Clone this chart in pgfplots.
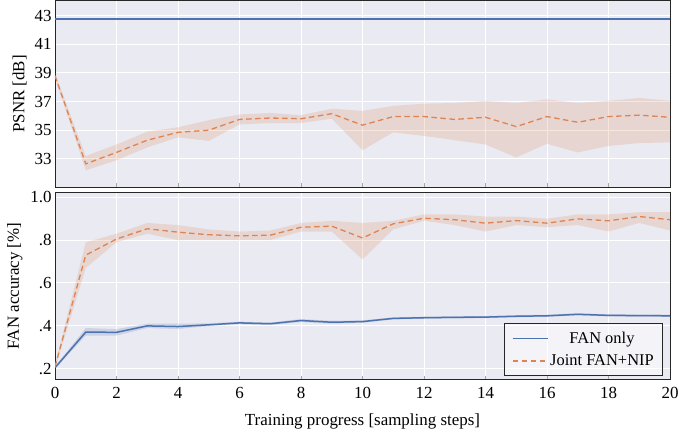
\documentclass[border=0pt]{standalone}
\usepackage{pgfplots}
\pgfplotsset{compat=1.18}
\usepgfplotslibrary{fillbetween}
\usepackage{fontspec}
\setmainfont{Liberation Serif}
\definecolor{bgc}{HTML}{EAEAF2}
\definecolor{sblue}{HTML}{4C72B0}
\definecolor{sorange}{HTML}{DD8452}
\definecolor{frame}{HTML}{262626}

\pgfplotstableread{
x m lo hi
0 38.8 38.6 39.0
1 32.65 32.2 33.2
2 33.45 32.9 34.0
3 34.3 33.8 34.9
4 34.85 34.5 35.2
5 35.0 34.25 35.7
6 35.75 35.4 36.1
7 35.85 35.5 36.2
8 35.8 35.5 36.05
9 36.15 35.8 36.5
10 35.35 33.6 36.35
11 35.95 34.85 36.7
12 35.95 34.6 36.85
13 35.75 34.3 36.9
14 35.9 34.0 37.05
15 35.25 33.1 36.9
16 35.95 34.05 37.15
17 35.55 33.45 36.9
18 35.95 33.9 37.05
19 36.05 34.1 37.25
20 35.9 34.15 37.05
}\psnrjoint

\pgfplotstableread{
x m
0 42.75
1 42.75
2 42.75
3 42.75
4 42.75
5 42.75
6 42.75
7 42.75
8 42.75
9 42.75
10 42.75
11 42.75
12 42.75
13 42.75
14 42.75
15 42.75
16 42.75
17 42.75
18 42.75
19 42.75
20 42.75
}\psnrfan

\pgfplotstableread{
x m lo hi
0 0.21 0.20 0.22
1 0.73 0.67 0.79
2 0.805 0.79 0.83
3 0.853 0.83 0.88
4 0.837 0.80 0.87
5 0.825 0.80 0.85
6 0.82 0.80 0.84
7 0.823 0.80 0.845
8 0.86 0.84 0.88
9 0.865 0.84 0.89
10 0.81 0.71 0.88
11 0.876 0.85 0.89
12 0.902 0.89 0.92
13 0.895 0.87 0.92
14 0.879 0.84 0.91
15 0.891 0.87 0.91
16 0.879 0.86 0.90
17 0.899 0.87 0.92
18 0.89 0.84 0.92
19 0.91 0.88 0.93
20 0.895 0.845 0.93
}\accjoint

\pgfplotstableread{
x m lo hi
0 0.205 0.20 0.21
1 0.371 0.355 0.39
2 0.37 0.355 0.385
3 0.40 0.39 0.41
4 0.397 0.385 0.41
5 0.405 0.40 0.412
6 0.414 0.408 0.42
7 0.41 0.404 0.416
8 0.425 0.418 0.432
9 0.417 0.41 0.424
10 0.42 0.414 0.426
11 0.435 0.43 0.44
12 0.438 0.433 0.443
13 0.44 0.435 0.445
14 0.441 0.436 0.446
15 0.445 0.44 0.45
16 0.447 0.442 0.452
17 0.454 0.449 0.459
18 0.449 0.444 0.454
19 0.448 0.443 0.453
20 0.447 0.442 0.452
}\accfan

\pgfplotsset{
  myaxis/.style={
    scale only axis,
    width=615bp,
    height=187bp,
    xmin=0, xmax=20,
    xtick={0,2,...,20},
    xtick pos=lower,
    axis background/.style={fill=bgc},
    grid=major,
    major grid style={white, line width=1bp},
    axis line style={frame, line width=1bp},
    tick style={gray!70, line width=0.7bp},
    major tick length=4bp,
    tick align=inside,
    ytick style={draw=none},
    font=\fontsize{17}{20}\selectfont,
    tick label style={font=\fontsize{17}{20}\selectfont},
    label style={font=\fontsize{17}{20}\selectfont},
    /pgf/number format/assume math mode=true,
  },
}

\begin{document}
\begin{tikzpicture}
\begin{axis}[myaxis, name=top,
  ymin=31.0, ymax=44.05,
  ytick={33,35,37,39,41,43},
  xticklabels={},
  ylabel={PSNR [dB]},
  ylabel style={yshift=1bp},
]
\addplot[name path=pjhi, draw=none, forget plot] table[x=x, y=hi] {\psnrjoint};
\addplot[name path=pjlo, draw=none, forget plot] table[x=x, y=lo] {\psnrjoint};
\addplot[sorange, fill opacity=0.2, draw=none, forget plot] fill between[of=pjhi and pjlo];
\addplot[sblue, line width=1.5bp] table[x=x, y=m] {\psnrfan};
\addplot[sorange, line width=1.3bp, dash pattern=on 5.5bp off 3.5bp] table[x=x, y=m] {\psnrjoint};
\end{axis}
\begin{axis}[myaxis, name=bot,
  at={(top.south west)}, yshift=-5bp, anchor=north west,
  ymin=0.15, ymax=1.022,
  ytick={0.2,0.4,0.6,0.8,1.0},
  yticklabels={.2,.4,.6,.8,1.0},
  xlabel={Training progress [sampling steps]},
  ylabel={FAN accuracy [\%]},
  ylabel style={yshift=1bp},
  xticklabel style={yshift=-4bp},
  xlabel style={yshift=-8bp},
  legend style={at={(0.989,0.021)}, anchor=south east,
    fill=white, fill opacity=0.5, text opacity=1, draw=frame, line width=1bp,
    font=\fontsize{16.5}{19}\selectfont, row sep=6bp,
    inner xsep=7bp, inner ysep=6bp},
  legend cell align=center,
  legend image code/.code={\draw[#1] (0bp,0bp) -- (35bp,0bp);},
]
\addplot[name path=afhi, draw=none, forget plot] table[x=x, y=hi] {\accfan};
\addplot[name path=aflo, draw=none, forget plot] table[x=x, y=lo] {\accfan};
\addplot[sblue, fill opacity=0.2, draw=none, forget plot] fill between[of=afhi and aflo];
\addplot[name path=ajhi, draw=none, forget plot] table[x=x, y=hi] {\accjoint};
\addplot[name path=ajlo, draw=none, forget plot] table[x=x, y=lo] {\accjoint};
\addplot[sorange, fill opacity=0.2, draw=none, forget plot] fill between[of=ajhi and ajlo];
\addplot[sblue, line width=1.5bp] table[x=x, y=m] {\accfan};
\addlegendentry{FAN only}
\addplot[sorange, line width=1.3bp, dash pattern=on 5.5bp off 3.5bp] table[x=x, y=m] {\accjoint};
\addlegendentry{Joint FAN+NIP}
\end{axis}
\pgfresetboundingbox
\path[use as bounding box] ([xshift=-55bp, yshift=0.5bp]top.north west) rectangle ++(686bp,-435bp);
\end{tikzpicture}
\end{document}
